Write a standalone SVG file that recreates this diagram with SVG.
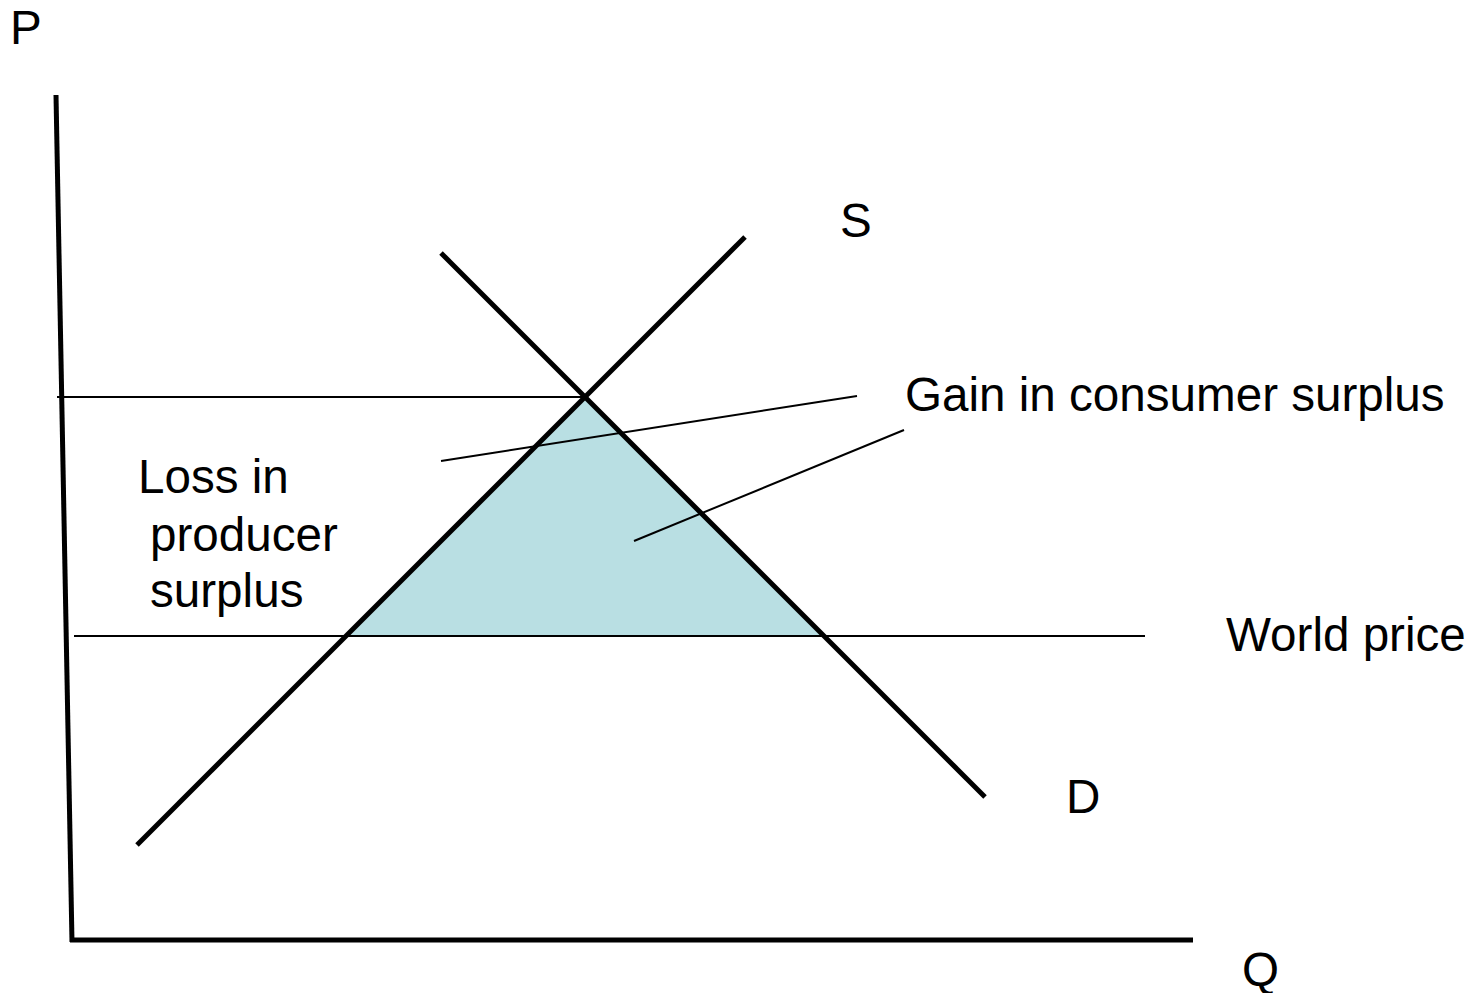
<svg xmlns="http://www.w3.org/2000/svg" width="1474" height="993" viewBox="0 0 1474 993">
<style>
text{font-family:"Liberation Sans",Arial,sans-serif;font-size:47.6px;fill:#000}
.thick{stroke:#000;stroke-width:5;fill:none}
.thin{stroke:#000;stroke-width:2;fill:none}
</style>
<rect width="1474" height="993" fill="#fff"/>
<g id="area">
<polygon points="585,397 346,636 824,636" fill="#B9DFE3"/>
</g>
<g id="connectors">
<line class="thin" x1="57" y1="397" x2="585" y2="397"/>
<line class="thin" x1="74" y1="636" x2="1145" y2="636"/>
<line class="thin" x1="441" y1="461" x2="857" y2="396"/>
<line class="thin" x1="634" y1="541" x2="904" y2="430"/>
</g>
<g id="axes">
<line class="thick" x1="56" y1="95" x2="72" y2="942"/>
<line class="thick" x1="70" y1="940" x2="1193" y2="940"/>
</g>
<g id="supply">
<line class="thick" x1="137" y1="845" x2="745" y2="237"/>
</g>
<g id="demand">
<line class="thick" x1="441" y1="253" x2="985" y2="797"/>
</g>
<g id="labels">
<text x="10" y="44">P</text>
<text x="1242" y="986">Q</text>
<text x="840" y="237">S</text>
<text x="1066" y="813">D</text>
<text x="905" y="411">Gain in consumer surplus</text>
<text x="1226" y="651">World price</text>
<text x="138" y="493">Loss in</text>
<text x="150" y="551">producer</text>
<text x="150" y="607">surplus</text>
</g>
</svg>
